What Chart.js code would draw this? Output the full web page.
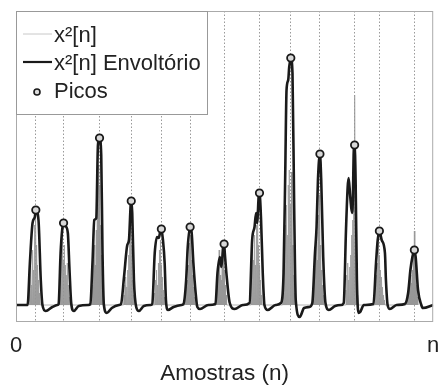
<!DOCTYPE html>
<html>
<head>
<meta charset="utf-8">
<script src="https://cdn.jsdelivr.net/npm/chart.js@4"></script>
<style>
  html, body { margin: 0; padding: 0; background: #fff; }
  #wrap { width: 439px; height: 385px; }
</style>
</head>
<body>
<div id="wrap"><canvas id="chart"></canvas></div>
<script>
// Envelope of x^2[n]: [sample, amplitude] pairs, read beat by beat
const envelope = [
    [0, 0],
    [11.7, 0], [14, 42], [16.7, 82], [19, 88], [20, 95], [22.7, 85], [25, 25], [26.7, 0], [30, -6], [36.7, -2], [41.7, 0],
    [43, 1], [45, 52], [46.7, 76], [48, 82], [50, 79], [52.3, 72], [54, 35], [55.7, 2], [58.3, -6], [63.3, -1], [73, 0],
    [75, 1], [77.3, 45], [79, 85], [81, 87], [82.7, 160], [84.3, 167], [86, 150], [87.3, 52], [88.7, 0], [91.7, -8], [96.7, -3], [104, 0],
    [106, 1], [109, 28], [112.3, 60], [114, 65], [115.7, 100], [116.3, 104], [117.3, 92], [119, 25], [121.3, -2], [124, -6], [129, -1], [136, 0],
    [137.5, 1], [140, 52], [142.3, 68], [144, 67], [145.7, 74], [146.7, 76], [148.3, 65], [150, 42], [151.3, 5], [153.3, -5], [159, -2], [167, 0],
    [169, 1], [171.7, 25], [173.3, 58], [175.7, 78], [177.3, 72], [179, 42], [181.3, 12], [183, -2], [185.7, -4], [194, 0],
    [201.3, 1], [203.3, 32], [205.7, 48], [207.3, 38], [209, 58], [210, 61], [210.7, 52], [212.3, 32], [215.7, 2], [220.7, -4], [229, 0],
    [235.7, 2], [238.3, 65], [240.7, 78], [242.3, 92], [243.3, 82], [245, 110], [245.7, 112], [247.3, 85], [249, 32], [250.7, 0], [254, -5], [262, 0],
    [267.3, 2], [270, 32], [271.7, 132], [273, 215], [274.7, 225], [275.7, 238], [277.3, 247], [279, 232], [280.7, 98], [282.3, 5], [286.3, -12], [290.7, -3], [296, -2],
    [299, 2], [301.7, 52], [303.3, 78], [304.7, 125], [306.7, 151], [308, 125], [310, 48], [312.3, 2], [315.7, -5], [322, -1], [328, 0],
    [330.7, 2], [333, 75], [334.7, 118], [335.7, 127], [337.3, 108], [339, 92], [340, 108], [340.7, 150], [341.7, 160], [342.7, 125], [344, 25], [345.7, -8], [347.3, -7], [351, 0],
    [360.7, 1], [363.3, 42], [365, 65], [366.7, 74], [369, 65], [372.3, 52], [373.3, 25], [375, 0], [377.3, -4], [384, 0],
    [392.3, 1], [395.7, 12], [398, 35], [400, 48], [402, 55], [403.3, 48], [405.7, 15], [409, 0], [410.7, -3], [421, 0]
];

// x^2[n] samples (grey spikes): [sample, amplitude]
const squared = [
    [13, 10], [14, 30], [15, 48], [16, 20], [17, 55], [18, 35], [19, 80], [20, 90], [21, 60], [22, 40], [23, 25], [24, 12],
    [44, 15], [45, 35], [46, 55], [47, 70], [48, 45], [49, 60], [50, 40], [51, 30], [52, 42], [53, 20], [54, 8],
    [77, 20], [78, 45], [79, 60], [80, 40], [81, 75], [82, 100], [83, 140], [84, 120], [85, 80], [86, 50], [87, 20],
    [109, 10], [110, 20], [111, 28], [112, 18], [113, 35], [114, 50], [115, 75], [116, 90], [117, 60], [118, 25], [119, 10],
    [140, 12], [141, 25], [142, 35], [143, 20], [144, 42], [145, 55], [146, 65], [147, 40], [148, 28], [149, 15], [150, 8],
    [171, 8], [172, 18], [173, 25], [174, 40], [175, 62], [176, 70], [177, 45], [178, 30], [179, 18], [180, 8],
    [202, 8], [203, 20], [204, 40], [205, 55], [206, 30], [207, 25], [208, 45], [209, 55], [210, 35], [211, 20], [212, 10],
    [237, 10], [238, 30], [239, 60], [240, 45], [241, 70], [242, 40], [243, 80], [244, 95], [245, 60], [246, 40], [247, 25], [248, 10],
    [269, 15], [270, 35], [271, 60], [272, 80], [273, 100], [274, 70], [275, 120], [276, 135], [277, 100], [278, 133], [279, 60], [280, 30], [281, 12],
    [300, 10], [301, 30], [302, 55], [303, 73], [304, 45], [305, 90], [306, 110], [307, 60], [308, 35], [309, 20], [310, 10],
    [333, 15], [334, 30], [335, 42], [336, 25], [337, 38], [338, 50], [339, 70], [340, 85], [341, 100], [342, 210], [343, 60], [344, 25], [345, 10],
    [362, 8], [363, 18], [364, 30], [365, 42], [366, 62], [367, 50], [368, 35], [369, 28], [370, 18], [371, 10], [372, 5],
    [394, 5], [395, 10], [396, 18], [397, 25], [398, 30], [399, 22], [400, 35], [401, 50], [402, 74], [403, 40], [404, 20], [405, 8]
];

// detected peaks
const peakN = [20, 48, 84.3, 116.3, 146.7, 175.7, 210, 245.7, 277.3, 306.7, 341.7, 366.7, 402];
const peakA = [95, 82, 167, 104, 76, 78, 61, 112, 247, 151, 160, 74, 55];

const N_MAX = 421;
const FONT = '"Liberation Sans", Arial, Helvetica, sans-serif';

// each sample drawn as a thin spike from zero
const squaredPts = [];
squared.forEach(([n, a]) => {
    squaredPts.push({ x: n - 0.5, y: 0 }, { x: n, y: a }, { x: n + 0.5, y: 0 });
});

const frameAndLegend = {
    id: 'frameAndLegend',
    afterDraw(chart) {
        const { ctx, chartArea: a } = chart;
        ctx.save();
        ctx.strokeStyle = '#aaa';
        ctx.lineWidth = 1;
        ctx.strokeRect(a.left + 0.5, a.top + 0.5, a.right - a.left - 1, a.bottom - a.top - 1);

        // legend box
        const bx = a.left, by = a.top, bw = 191, bh = 103;
        ctx.fillStyle = '#fff';
        ctx.fillRect(bx + 0.5, by + 0.5, bw, bh);
        ctx.strokeStyle = '#999';
        ctx.strokeRect(bx + 0.5, by + 0.5, bw, bh);

        ctx.font = '22px ' + FONT;
        ctx.fillStyle = '#222';
        ctx.textBaseline = 'middle';
        ctx.textAlign = 'left';

        ctx.strokeStyle = '#c8c8c8';
        ctx.lineWidth = 1;
        ctx.beginPath(); ctx.moveTo(bx + 7, by + 23); ctx.lineTo(bx + 36, by + 23); ctx.stroke();
        ctx.fillText('x²[n]', bx + 38, by + 25);

        ctx.strokeStyle = '#1a1a1a';
        ctx.lineWidth = 2.2;
        ctx.beginPath(); ctx.moveTo(bx + 7, by + 51); ctx.lineTo(bx + 36, by + 51); ctx.stroke();
        ctx.fillText('x²[n] Envoltório', bx + 38, by + 53);

        ctx.lineWidth = 1.6;
        ctx.strokeStyle = '#1a1a1a';
        ctx.fillStyle = '#ddd';
        ctx.beginPath(); ctx.arc(bx + 21, by + 81, 3, 0, Math.PI * 2); ctx.fill(); ctx.stroke();
        ctx.fillStyle = '#222';
        ctx.fillText('Picos', bx + 38, by + 81);
        ctx.restore();
    }
};

new Chart(document.getElementById('chart'), {
    type: 'line',
    data: {
        datasets: [
            {
                label: 'Picos',
                data: peakN.map((n, i) => ({ x: n, y: peakA[i] })),
                showLine: false,
                pointRadius: 3.7,
                pointBorderWidth: 1.8,
                pointBorderColor: '#1a1a1a',
                pointBackgroundColor: '#d8d8d8',
                order: 0
            },
            {
                label: 'x²[n] Envoltório',
                data: envelope.map(([n, a]) => ({ x: n, y: a })),
                borderColor: '#1a1a1a',
                borderWidth: 2.6,
                pointRadius: 0,
                cubicInterpolationMode: 'monotone',
                order: 1
            },
            {
                label: 'x²[n]',
                data: squaredPts,
                borderColor: 'rgba(150,150,150,0.9)',
                backgroundColor: 'rgba(145,145,145,0.7)',
                borderWidth: 0.8,
                pointRadius: 0,
                fill: 'origin',
                order: 2
            }
        ]
    },
    options: {
        responsive: true,
        maintainAspectRatio: false,
        animation: false,
        layout: { padding: { left: 16, right: 2, top: 11, bottom: 0 } },
        plugins: {
            legend: { display: false },
            tooltip: { enabled: false }
        },
        scales: {
            x: {
                type: 'linear',
                min: 0,
                max: N_MAX,
                afterBuildTicks: (s) => {
                    s.ticks = [0, ...peakN, N_MAX].map(v => ({ value: v }));
                },
                afterFit: (s) => {
                    s.height = 63;
                    s.paddingLeft = 0;
                    s.paddingRight = 0;
                },
                ticks: {
                    autoSkip: false,
                    maxRotation: 0,
                    padding: 11,
                    color: '#222',
                    font: { family: FONT, size: 22 },
                    callback: (v, i, t) => i === 0 ? '0' : (i === t.length - 1 ? 'n' : '')
                },
                grid: {
                    drawTicks: false,
                    lineWidth: 1,
                    color: (ctx) => (ctx.index === 0 || ctx.index === peakN.length + 1) ? 'rgba(0,0,0,0)' : '#9a9a9a'
                },
                border: { display: false, dash: [1.5, 2] },
                title: {
                    display: true,
                    text: 'Amostras (n)',
                    color: '#222',
                    padding: 0,
                    font: { family: FONT, size: 22.5, lineHeight: 1 }
                }
            },
            y: {
                type: 'linear',
                min: -17,
                max: 294,
                display: false
            }
        }
    },
    plugins: [frameAndLegend]
});
</script>
</body>
</html>
